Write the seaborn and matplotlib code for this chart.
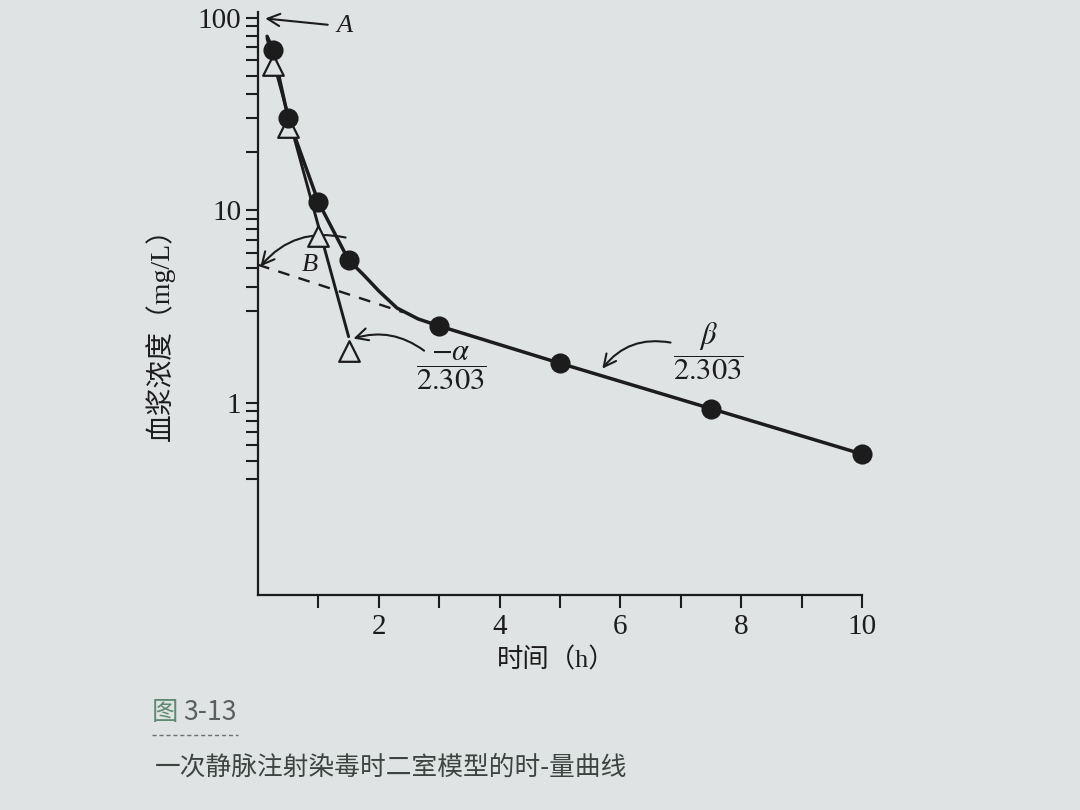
import matplotlib
matplotlib.use("Agg")
import matplotlib.pyplot as plt
from matplotlib.lines import Line2D
import numpy as np
import pandas as pd
import seaborn as sns

# observed concentrations (filled circles)
t_obs = [0.25, 0.5, 1.0, 1.5, 3.0, 5.0, 7.5, 10.0]
c_obs = [68, 30, 11, 5.5, 2.5, 1.6, 0.93, 0.54]

t_curve = [0.15, 0.25, 0.5, 1.0, 1.5, 1.75, 2.0, 2.3, 2.65, 3.0, 5.0, 7.5, 10.0]
c_curve = [80, 68, 30, 11, 5.5, 4.6, 3.8, 3.1, 2.72, 2.5, 1.6, 0.93, 0.54]

# residuals (open triangles) and the alpha line through them
t_res = [0.25, 0.5, 1.0, 1.5]
c_res = [57, 27, 7.3, 1.85]
t_alpha = [0.15, 1.5]
c_alpha = [78, 2.2]

# back-extrapolated beta phase (dashed) to intercept B
t_beta = [0.0, 2.4]
c_beta = [5.2, 2.95]

x_major = [2, 4, 6, 8, 10]
x_minor = [1, 3, 5, 7, 9]
y_major = [1, 10, 100]
y_labels = ["1", "10", "100"]
y_minor = [0.4, 0.5, 0.6, 0.7, 0.8, 0.9, 3, 4, 5, 6, 7, 8, 9,
           20, 30, 40, 50, 60, 70, 80, 90]

paper = "#e0e3e3"
ink = "#1c1c1c"

sns.set_theme(style="ticks")
plt.rcParams["font.family"] = ["Liberation Serif", "Noto Sans CJK SC", "DejaVu Sans"]
plt.rcParams["mathtext.fontset"] = "stix"

fig = plt.figure(figsize=(10.8, 8.1), dpi=100, facecolor=paper)
ax = fig.add_axes([0.2389, 0.2654, 0.5593, 0.7198])
ax.set_facecolor(paper)

curve = pd.DataFrame({"t": t_curve, "c": c_curve})
alpha_line = pd.DataFrame({"t": t_alpha, "c": c_alpha})
beta_line = pd.DataFrame({"t": t_beta, "c": c_beta})
obs = pd.DataFrame({"t": t_obs, "c": c_obs})
res = pd.DataFrame({"t": t_res, "c": c_res})

sns.lineplot(data=curve, x="t", y="c", ax=ax, color=ink, lw=2.5, sort=False)
sns.lineplot(data=alpha_line, x="t", y="c", ax=ax, color=ink, lw=2.1)
sns.lineplot(data=beta_line, x="t", y="c", ax=ax, color=ink, lw=1.7,
             linestyle=(0, (5, 4)))
sns.scatterplot(data=res, x="t", y="c", ax=ax, marker="^", s=220,
                facecolor=paper, edgecolor=ink, linewidth=1.6, zorder=4)
sns.scatterplot(data=obs, x="t", y="c", ax=ax, marker="o", s=180,
                color=ink, edgecolor=ink, zorder=5, clip_on=False)

ax.set_yscale("log")
ax.set_xlim(0, 10)
ax.set_ylim(0.1, 107)
ax.set_xticks(x_major)
ax.set_xticks(x_minor, minor=True)
ax.set_xticklabels([str(v) for v in x_major])
ax.set_yticks(y_major)
ax.set_yticklabels(y_labels)
ax.set_yticks(y_minor, minor=True)
ax.yaxis.set_minor_formatter(plt.NullFormatter())
ax.tick_params(axis="both", which="both", direction="out", color=ink,
               width=1.5, labelsize=21, labelcolor=ink)
ax.tick_params(axis="y", which="both", length=9, pad=3)
ax.tick_params(axis="x", which="both", length=9, pad=5)
ax.set_xlabel("")
ax.set_ylabel("")
sns.despine(ax=ax)
for side in ("left", "bottom"):
    ax.spines[side].set_color(ink)
    ax.spines[side].set_linewidth(1.6)

arrow = dict(arrowstyle="->", color=ink, lw=1.5, mutation_scale=22)

ax.annotate("A", xy=(0.12, 99), xytext=(1.3, 90), fontsize=19, style="italic",
            color=ink, ha="left", va="center",
            arrowprops=dict(arrow, shrinkA=4, shrinkB=0))
ax.text(0.85, 5.2, "B", fontsize=19, style="italic", color=ink,
        ha="center", va="center")
ax.annotate("", xy=(0.04, 5.1), xytext=(1.45, 7.2),
            arrowprops=dict(arrow, connectionstyle="arc3,rad=0.3",
                            shrinkA=0, shrinkB=0))
ax.annotate("", xy=(1.58, 2.15), xytext=(2.75, 1.86),
            arrowprops=dict(arrow, connectionstyle="arc3,rad=0.25",
                            shrinkA=0, shrinkB=0))
ax.annotate("", xy=(5.7, 1.5), xytext=(6.83, 2.05),
            arrowprops=dict(arrow, connectionstyle="arc3,rad=0.3",
                            shrinkA=0, shrinkB=0))
ax.text(3.2, 1.5, r"$\dfrac{-\alpha}{2.303}$", fontsize=22, color=ink,
        ha="center", va="center")
ax.text(7.45, 1.84, r"$\dfrac{\beta}{2.303}$", fontsize=22, color=ink,
        ha="center", va="center")

fig.text(0.148, 0.595, "血浆浓度（mg/L）", rotation=90, fontsize=20,
         color=ink, ha="center", va="center")
fig.text(0.515, 0.185, "时间（h）", fontsize=19, color=ink,
         ha="center", va="center")

fig.text(0.141, 0.12, "图", fontsize=19, color="#5f8a72", ha="left",
         va="center", family=["Noto Sans CJK SC"])
fig.text(0.170, 0.12, "3-13", fontsize=19, color="#5a605d", ha="left",
         va="center", family=["Noto Sans CJK SC"])
fig.add_artist(Line2D([0.141, 0.22], [0.093, 0.093], color="#707070",
                      lw=1.0, linestyle=(0, (3, 2))))
fig.text(0.143, 0.052, "一次静脉注射染毒时二室模型的时-量曲线", fontsize=18.5,
         color="#3d4440", ha="left", va="center",
         family=["Noto Sans CJK SC"])

fig.savefig("out.png", dpi=100, facecolor=paper)
